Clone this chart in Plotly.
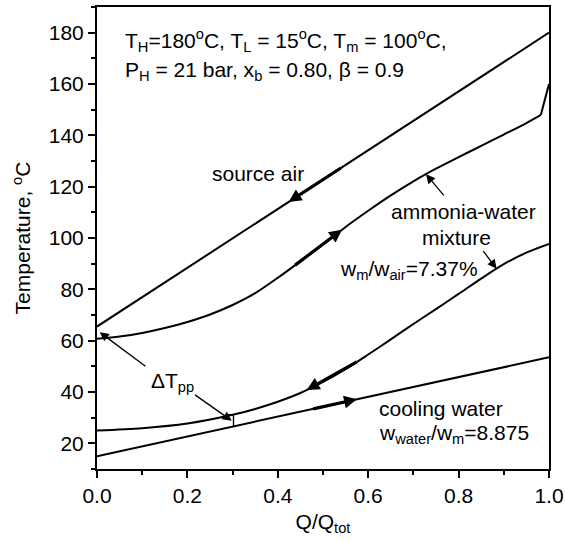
import numpy as np
import plotly.graph_objects as go

# ---------------- data ----------------
q_air = [0.0, 1.0]
t_air = [65.5, 180.0]

q_heat = [0.0, 0.05, 0.1, 0.15, 0.2, 0.25, 0.3, 0.35, 0.4, 0.45, 0.5,
          0.55, 0.6, 0.65, 0.7, 0.75, 0.8, 0.85, 0.9, 0.95, 0.982, 1.0]
t_heat = [60.7, 61.6, 63.0, 64.9, 67.3, 70.2, 73.9, 78.5, 84.5, 90.9, 97.5,
          104.3, 110.6, 116.6, 122.1, 127.0, 131.5, 135.9, 140.3, 144.8, 148.0, 160.0]

q_cond = [0.0, 0.1, 0.2, 0.3, 0.35, 0.4, 0.45, 0.5, 0.55, 0.6, 0.65, 0.7,
          0.75, 0.8, 0.85, 0.9, 0.95, 1.0]
t_cond = [25.0, 25.9, 27.7, 31.1, 33.4, 36.2, 39.6, 43.9, 48.9, 54.6, 60.5, 66.5,
          72.3, 78.2, 84.2, 89.8, 94.3, 97.7]

q_cw = [0.0, 1.0]
t_cw = [15.0, 53.5]

# flow-direction arrows (tail Q, head Q) on each curve
arrow_air = (0.542, 0.424)
arrow_heat = (0.435, 0.542)
arrow_cond = (0.578, 0.464)
arrow_cw = (0.475, 0.575)

q_pinch = 0.302

x_ticks = [0.0, 0.2, 0.4, 0.6, 0.8, 1.0]
y_ticks = [20, 40, 60, 80, 100, 120, 140, 160, 180]

FONT = "Liberation Sans, Arial, sans-serif"
FS = 21

fig = go.Figure()
line_style = dict(color="black", width=2)
fig.add_trace(go.Scatter(x=q_air, y=t_air, mode="lines", line=line_style,
                         showlegend=False, hoverinfo="skip"))
# heating curve: smooth part + final superheating segment (sharp corner kept)
fig.add_trace(go.Scatter(x=q_heat[:-1], y=t_heat[:-1], mode="lines",
                         line=dict(line_style, shape="spline", smoothing=0.8),
                         showlegend=False, hoverinfo="skip"))
fig.add_trace(go.Scatter(x=q_heat[-2:], y=t_heat[-2:], mode="lines", line=line_style,
                         showlegend=False, hoverinfo="skip"))
fig.add_trace(go.Scatter(x=q_cond, y=t_cond, mode="lines",
                         line=dict(line_style, shape="spline", smoothing=0.8),
                         showlegend=False, hoverinfo="skip"))
fig.add_trace(go.Scatter(x=q_cw, y=t_cw, mode="lines", line=line_style,
                         showlegend=False, hoverinfo="skip"))

def yat(qx, ty, q):
    return float(np.interp(q, qx, ty))

annotations = []
for (qx, ty), (qa, qb) in [((q_air, t_air), arrow_air), ((q_heat, t_heat), arrow_heat),
                          ((q_cond, t_cond), arrow_cond), ((q_cw, t_cw), arrow_cw)]:
    annotations.append(dict(x=qb, y=yat(qx, ty, qb), ax=qa, ay=yat(qx, ty, qa),
                            xref="x", yref="y", axref="x", ayref="y", text="",
                            showarrow=True, arrowhead=2, arrowwidth=3.2,
                            arrowsize=0.8, arrowcolor="black", standoff=0))

# thin pointer arrows
thin = [
    (0.728, yat(q_heat, t_heat, 0.728), 0.770, 116.0),
    (0.884, yat(q_cond, t_cond, 0.884), 0.852, 95.5),
    (0.006, 63.3, 0.1105, 49.6),
    (0.298, 28.8, 0.2136, 39.3),
]
for hx, hy, tx, ty in thin:
    annotations.append(dict(x=hx, y=hy, ax=tx, ay=ty, xref="x", yref="y",
                            axref="x", ayref="y", text="", showarrow=True,
                            arrowhead=2, arrowwidth=1.3, arrowsize=1.4,
                            arrowcolor="black", standoff=0))

def txt(x, y, s, xanchor="left"):
    annotations.append(dict(x=x, y=y, xref="x", yref="y", text=s, showarrow=False,
                            xanchor=xanchor, yanchor="middle",
                            font=dict(family=FONT, size=FS, color="black")))

txt(0.058, 177.0, "T<sub>H</sub>=180<sup>o</sup>C, T<sub>L</sub> = 15<sup>o</sup>C, T<sub>m</sub> = 100<sup>o</sup>C,")
txt(0.058, 165.0, "P<sub>H</sub> = 21 bar, x<sub>b</sub> = 0.80, β = 0.9")
txt(0.357, 125.2, "source air", "center")
txt(0.810, 110.2, "ammonia-water", "center")
txt(0.795, 100.3, "mixture", "center")
txt(0.848, 87.5, "w<sub>m</sub>/w<sub>air</sub>=7.37%", "right")
txt(0.620, 33.5, "cooling water")
txt(0.620, 23.8, "w<sub>water</sub>/w<sub>m</sub>=8.875")
txt(0.114, 44.0, "ΔT<sub>pp</sub>")

fig.update_layout(annotations=annotations)

# pinch bar
yb = yat(q_cw, t_cw, q_pinch)
yt = yat(q_cond, t_cond, q_pinch)
fig.add_shape(type="line", x0=q_pinch, x1=q_pinch, y0=yb, y1=yt, xref="x", yref="y",
              line=dict(color="black", width=1.3))
fig.add_shape(type="line", x0=q_pinch - 0.012, x1=q_pinch, y0=yt, y1=yt, xref="x", yref="y",
              line=dict(color="black", width=1.3))

axis_common = dict(showline=True, linecolor="black", linewidth=2, mirror=True,
                   ticks="outside", ticklen=7, tickwidth=2, tickcolor="black",
                   showgrid=False, zeroline=False,
                   tickfont=dict(family=FONT, size=FS, color="black"))

fig.update_xaxes(range=[0, 1], tickvals=x_ticks, tickformat=".1f",
                 minor=dict(dtick=0.1, tick0=0, ticks="outside", ticklen=4, tickwidth=2, tickcolor="black"),
                 title=dict(text="Q/Q<sub>tot</sub>", font=dict(family=FONT, size=FS, color="black"), standoff=8),
                 automargin=False, **axis_common)
fig.update_yaxes(range=[10, 190], tickvals=y_ticks,
                 minor=dict(dtick=10, tick0=0, ticks="outside", ticklen=4, tickwidth=2, tickcolor="black"),
                 title=dict(text="Temperature, <sup>o</sup>C", font=dict(family=FONT, size=FS, color="black"), standoff=12),
                 automargin=False, **axis_common)

fig.update_layout(width=565, height=541, margin=dict(l=97, r=16, t=7, b=72),
                  plot_bgcolor="white", paper_bgcolor="white",
                  font=dict(family=FONT, size=FS, color="black"))

fig.write_html("out.html")
